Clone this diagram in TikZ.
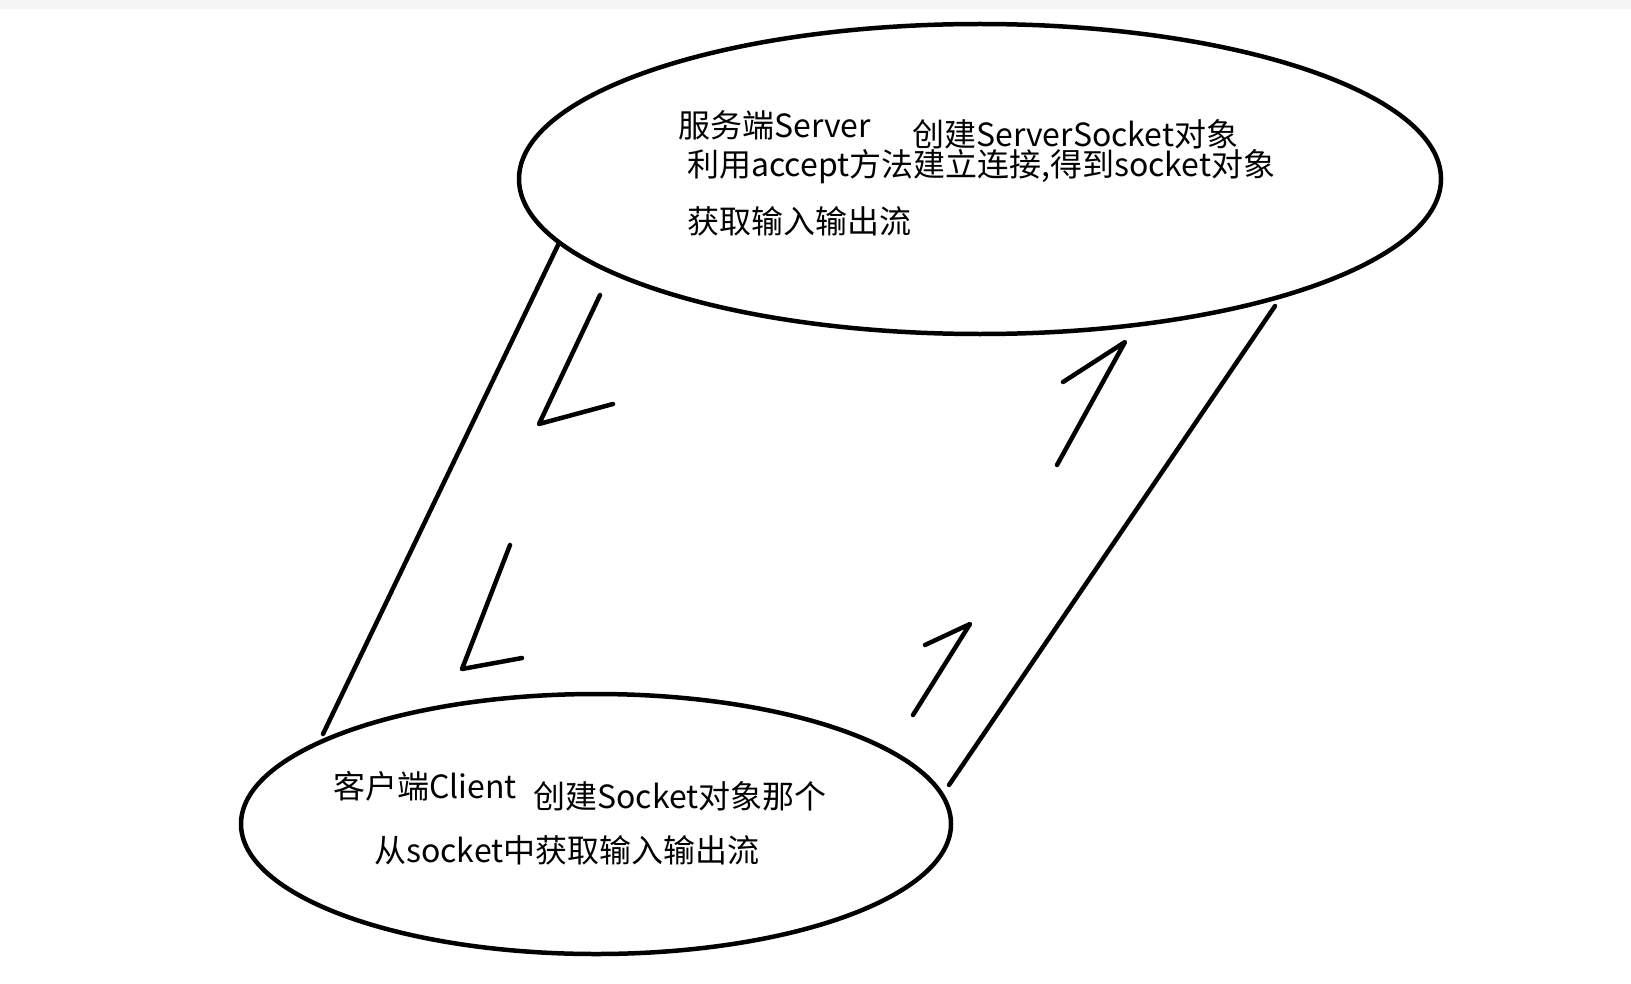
\documentclass[tikz,border=0pt]{standalone}
\usepackage{fontspec}
\newfontfamily\cjk{Noto Sans CJK SC}
\tikzset{
  txt/.style={anchor=west,inner sep=0pt,font=\cjk\fontsize{18.2}{20}\selectfont},
  pen/.style={line width=0.09cm,line cap=round,line join=round}
}
\begin{document}
\begin{tikzpicture}[x=0.02cm,y=-0.02cm]
      \useasboundingbox (0,0) rectangle (1631,983);
      \fill[black!4] (0,0) rectangle (1631,9);
      \draw[pen] (980,179) ellipse [x radius=461,y radius=155];
      \draw[pen] (596,824) ellipse [x radius=355,y radius=130];
      \draw
        (678,125) node[txt] (srvname){服务端Server}
        (912,134) node[txt] (srvcreate){创建ServerSocket对象}
        (687,167) node[txt] (srvaccept){利用accept方法建立连接,得到socket对象}
        (687,221) node[txt] (srvstream){获取输入输出流}
        (333,786) node[txt] (cliname){客户端Client}
        (533,796) node[txt] (clicreate){创建Socket对象那个}
        (374,850) node[txt] (clistream){从socket中获取输入输出流};
      \coordinate (ltop) at (559,243);
      \coordinate (lbot) at (323,734);
      \coordinate (rtop) at (1275,306);
      \coordinate (rbot) at (949,785);
      \begin{scope}[pen]
        \draw (ltop) to (lbot);
        \draw (rtop) to (rbot);
        \draw (600,295) -- (539,424) -- (613,404);
        \draw (510,545) -- (462,669) -- (522,658);
        \draw (1057,465) -- (1125,342) -- (1063,382);
        \draw (913,715) -- (970,624) -- (925,645);
      \end{scope}
    \end{tikzpicture}
\end{document}
